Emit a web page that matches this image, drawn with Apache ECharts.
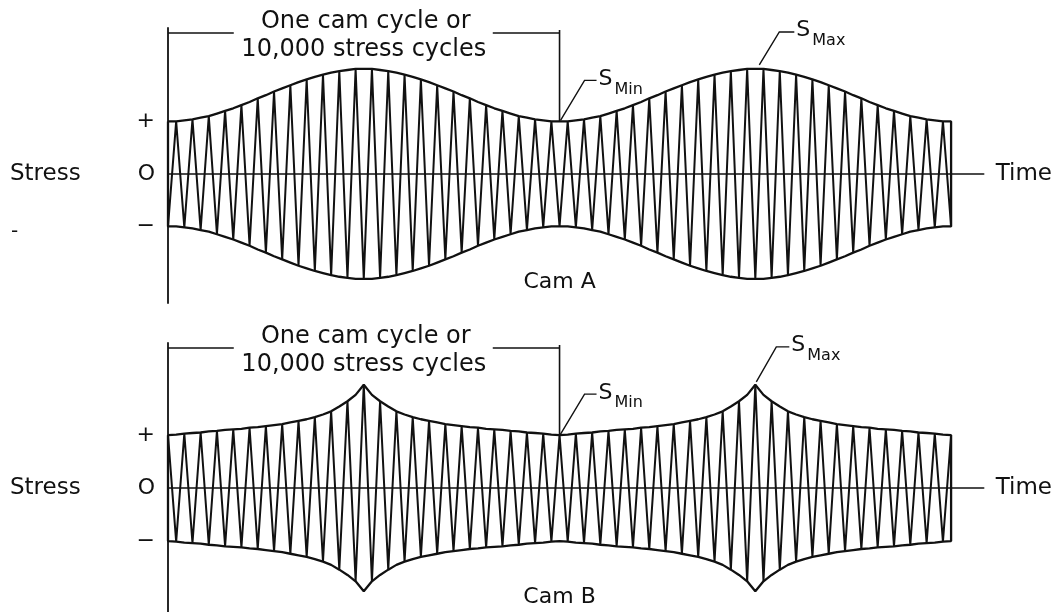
<!DOCTYPE html>
<html lang="en">
<head>
    <meta charset="UTF-8">
    <title>Stress patterns - Cam A / Cam B</title>
    <script src="https://cdn.jsdelivr.net/npm/echarts@6.0.0/dist/echarts.min.js"></script>
    <style>
        * {
            margin: 0;
            padding: 0;
            box-sizing: border-box;
        }

        body {
            background: #ffffff;
        }

        #chart {
            width: 1053px;
            height: 612px;
        }
    </style>
</head>
<body>
    <div id="chart"></div>

    <script>
        // time axis in half stress cycles; 48 half cycles = one cam cycle
        const camCycle = 48;
        const timeMax = 100;

        // envelope amplitude at every half cycle, in units of the "+" level
        const envelopeA = [
            1.00, 1.00, 1.02, 1.04, 1.07, 1.10, 1.15, 1.20, 1.25, 1.31, 1.37, 1.44,
            1.50, 1.57, 1.63, 1.69, 1.75, 1.80, 1.85, 1.89, 1.93, 1.96, 1.98, 2.00,
            2.00, 2.00, 1.98, 1.96, 1.93, 1.89, 1.85, 1.80, 1.75, 1.69, 1.63, 1.57,
            1.50, 1.44, 1.37, 1.31, 1.25, 1.20, 1.15, 1.10, 1.07, 1.04, 1.02, 1.00,
            1.00, 1.00, 1.02, 1.04, 1.07, 1.10, 1.15, 1.20, 1.25, 1.31, 1.37, 1.44,
            1.50, 1.57, 1.63, 1.69, 1.75, 1.80, 1.85, 1.89, 1.93, 1.96, 1.98, 2.00,
            2.00, 2.00, 1.98, 1.96, 1.93, 1.89, 1.85, 1.80, 1.75, 1.69, 1.63, 1.57,
            1.50, 1.44, 1.37, 1.31, 1.25, 1.20, 1.15, 1.10, 1.07, 1.04, 1.02, 1.00,
            1.00
        ];

        const envelopeB = [
            1.00, 1.01, 1.03, 1.04, 1.05, 1.07, 1.08, 1.10, 1.11, 1.12, 1.14, 1.15,
            1.17, 1.19, 1.21, 1.24, 1.27, 1.30, 1.34, 1.39, 1.45, 1.54, 1.64, 1.76,
            1.95, 1.76, 1.64, 1.54, 1.45, 1.39, 1.34, 1.30, 1.27, 1.24, 1.21, 1.19,
            1.17, 1.15, 1.14, 1.12, 1.11, 1.10, 1.08, 1.07, 1.05, 1.04, 1.03, 1.01,
            1.00, 1.01, 1.03, 1.04, 1.05, 1.07, 1.08, 1.10, 1.11, 1.12, 1.14, 1.15,
            1.17, 1.19, 1.21, 1.24, 1.27, 1.30, 1.34, 1.39, 1.45, 1.54, 1.64, 1.76,
            1.95, 1.76, 1.64, 1.54, 1.45, 1.39, 1.34, 1.30, 1.27, 1.24, 1.21, 1.19,
            1.17, 1.15, 1.14, 1.12, 1.11, 1.10, 1.08, 1.07, 1.05, 1.04, 1.03, 1.01,
            1.00
        ];

        const levelValues = [-1, 0, 1];
        const levelNames = ['\u2212', 'O', '+'];
        const bracketLines = ['One cam cycle or', '10,000 stress cycles'];

        const font = 'DejaVu Sans';
        const ink = '#111';

        const panels = [
            { title: 'Cam A', env: envelopeA, firstSign: -1, top: 28, height: 275, yMin: -2.46, yMax: 2.78,
              maxAt: 72, maxLeader: [[4, -4], [24, -37], [39, -37]], dash: true },
            { title: 'Cam B', env: envelopeB, firstSign: 1, top: 343, height: 269, yMin: -2.34, yMax: 2.74,
              maxAt: 72, maxLeader: [[1, -3], [21, -38], [34, -38]], dash: false }
        ];

        const chart = echarts.init(document.getElementById('chart'));

        const grids = [], xAxes = [], yAxes = [], series = [];
        panels.forEach(function (p, k) {
            grids.push({ left: 168, width: 817, top: p.top, height: p.height });
            xAxes.push({
                gridIndex: k, type: 'value', min: 0, max: timeMax,
                axisLine: { onZero: true, lineStyle: { color: ink, width: 1.6 } },
                axisTick: { show: false }, axisLabel: { show: false }, splitLine: { show: false },
                name: 'Time', nameLocation: 'end', nameGap: 12,
                nameTextStyle: { fontFamily: font, fontSize: 23, color: ink, verticalAlign: 'middle' }
            });
            yAxes.push({
                gridIndex: k, type: 'value', min: p.yMin, max: p.yMax,
                axisLine: { show: true, onZero: false, lineStyle: { color: ink, width: 1.8 } },
                axisTick: { show: false }, splitLine: { show: false },
                axisLabel: {
                    customValues: levelValues, margin: 13,
                    fontFamily: font, fontSize: 22, color: ink,
                    formatter: function (v) { return levelNames[levelValues.indexOf(v)]; }
                }
            });

            // closed envelope outline
            const upper = p.env.map(function (a, i) { return [i, a]; });
            const lower = p.env.map(function (a, i) { return [i, -a]; }).reverse();
            const outline = upper.concat(lower, [[0, p.env[0]]]);
            series.push({
                type: 'line', xAxisIndex: k, yAxisIndex: k, data: outline,
                showSymbol: false, silent: true, z: 3,
                lineStyle: { color: ink, width: 2.3 }
            });

            // stress cycles: alternate peaks touch the envelope
            const carrier = p.env.map(function (a, i) {
                return [i, (i % 2 === 0 ? p.firstSign : -p.firstSign) * a];
            });
            series.push({
                type: 'line', xAxisIndex: k, yAxisIndex: k, data: carrier,
                showSymbol: false, silent: true, z: 2,
                lineStyle: { color: ink, width: 2 }
            });
        });

        chart.setOption({
            backgroundColor: '#ffffff',
            animation: false,
            grid: grids,
            xAxis: xAxes,
            yAxis: yAxes,
            series: series
        });

        // annotations placed from data coordinates
        function px(k, x, y) {
            return chart.convertToPixel({ gridIndex: k }, [x, y]);
        }
        function text(x, y, s, size, align, valign) {
            return { type: 'text', x: x, y: y, silent: true,
                style: { text: s, fontFamily: font, fontSize: size, fill: ink,
                         align: align || 'left', verticalAlign: valign || 'middle' } };
        }
        function line(points, w) {
            return { type: 'polyline', silent: true, shape: { points: points },
                style: { stroke: ink, lineWidth: w || 1.6, fill: null } };
        }

        const graphics = [];
        panels.forEach(function (p, k) {
            const zero = px(k, 0, 0);
            graphics.push(text(10, zero[1], 'Stress', 23));
            if (p.dash) {
                const neg = px(k, 0, -1.1);
                graphics.push(text(11, neg[1], '-', 20));
            }

            // bracket over one cam cycle
            const a = px(k, 0, 0), b = px(k, camCycle, p.env[camCycle]);
            const mid = px(k, camCycle / 2, 0)[0];
            const yb = p.top + 5;
            graphics.push(line([[a[0], yb], [mid - 130, yb]]));
            graphics.push(line([[mid + 129, yb], [b[0], yb]]));
            graphics.push(line([[b[0], yb - 3], [b[0], b[1]]]));
            graphics.push(text(mid + 2, yb - 11, bracketLines[0], 24, 'center'));
            graphics.push(text(mid, yb + 17, bracketLines[1], 24, 'center'));

            // S Min
            const m = px(k, camCycle, p.env[camCycle]);
            graphics.push(line([[m[0] + 1, m[1] - 1], [m[0] + 25, m[1] - 41], [m[0] + 37, m[1] - 41]], 1.4));
            graphics.push(text(m[0] + 39, m[1] - 42, 'S', 22));
            graphics.push(text(m[0] + 55, m[1] - 32, 'Min', 16));

            // S Max
            const s = px(k, p.maxAt, p.env[p.maxAt]);
            const pts = p.maxLeader.map(function (d) { return [s[0] + d[0], s[1] + d[1]]; });
            graphics.push(line(pts, 1.4));
            const end = pts[pts.length - 1];
            graphics.push(text(end[0] + 2, end[1] - 2, 'S', 22));
            graphics.push(text(end[0] + 18, end[1] + 9, 'Max', 16));

            // panel caption
            const c = px(k, camCycle, -2.06);
            graphics.push(text(c[0], c[1], p.title, 22, 'center'));
        });

        chart.setOption({ graphic: graphics });

        window.addEventListener('resize', function () {
            chart.resize();
        });
    </script>
</body>
</html>
